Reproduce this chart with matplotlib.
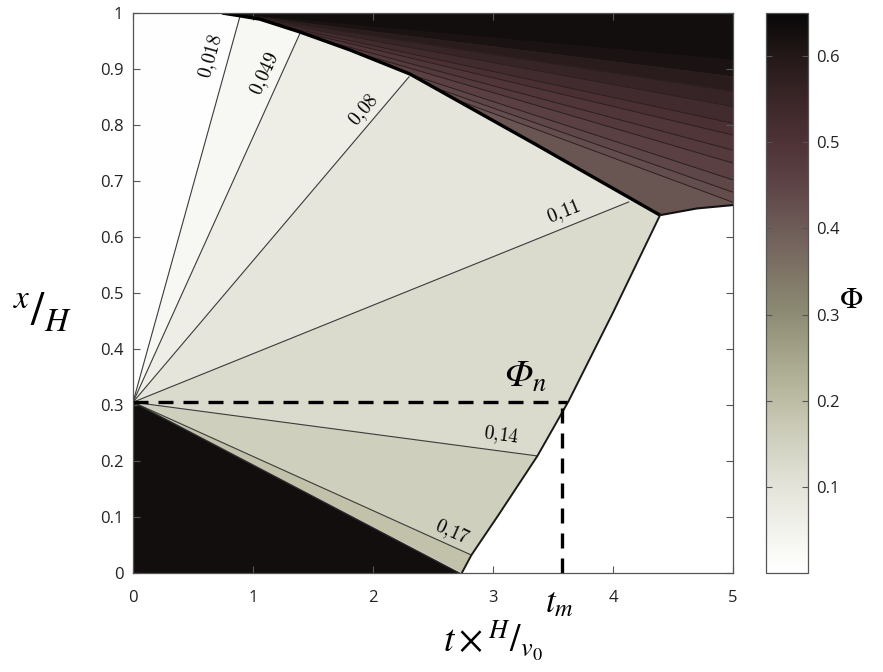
import numpy as np
import matplotlib
matplotlib.use('Agg')
import matplotlib.pyplot as plt
from matplotlib.colors import LinearSegmentedColormap, Normalize
from matplotlib.patches import Polygon
from matplotlib.cm import ScalarMappable

plt.rcParams['mathtext.fontset'] = 'stix'

# ---------------- data ----------------
fan_origin_t, fan_origin_x = 0.0, 0.305
fan_labels = ['0{,}018', '0{,}049', '0{,}08', '0{,}11', '0{,}14', '0{,}17']
fan_end_t = [0.89, 1.39, 2.30, 4.13, 3.37, 2.82]
fan_end_x = [0.993, 0.963, 0.886, 0.6625, 0.209, 0.032]
fan_band_phi = [0.003, 0.033, 0.064, 0.095, 0.125, 0.155, 0.19]
label_t = [0.654, 1.10, 1.93, 3.595, 3.07, 2.66]
label_x = [0.922, 0.891, 0.827, 0.645, 0.246, 0.073]

lower_dark_end_t, lower_dark_end_x = 2.72, 0.0
lower_dark_phi = 0.63

upper_t = [0.742, 0.89, 1.058, 1.392, 1.808, 2.308, 3.35, 4.392]
upper_x = [1.0, 0.995, 0.989, 0.966, 0.934, 0.891, 0.766, 0.639]
right_t = [4.392, 4.0, 3.63, 3.37, 3.05, 2.82, 2.74]
right_x = [0.639, 0.465, 0.307, 0.209, 0.105, 0.032, 0.0]
kink_t = [4.392, 4.7, 5.0]
kink_x = [0.639, 0.651, 0.657]

apex_t, apex_x = 0.742, 1.0
upper_edge_x = [1.0, 0.916, 0.886, 0.86, 0.833, 0.803, 0.782, 0.755, 0.732, 0.702, 0.68, 0.662, 0.30]
upper_band_phi = [0.632, 0.615, 0.585, 0.555, 0.53, 0.51, 0.49, 0.475, 0.46, 0.445, 0.43, 0.415]

t_m, phi_n_x, phi_n_t_end = 3.575, 0.305, 3.62

cm_pts = [0, 0.05, 0.1, 0.15, 0.2, 0.25, 0.3, 0.35, 0.4, 0.45, 0.5, 0.55, 0.6, 0.65]
cm_cols = ['#ffffff', '#f2f2ec', '#e3e3d9', '#d1d1c1', '#bdbda5', '#a6a68c', '#8e8c74',
           '#7e7466', '#6e5c58', '#5e4446', '#4e3236', '#3a2628', '#241818', '#080808']
cb_ticks = [0.1, 0.2, 0.3, 0.4, 0.5, 0.6]

# ---------------- figure ----------------
W, H = 883, 672
fig = plt.figure(figsize=(W / 100, H / 100), dpi=100)
ax = fig.add_axes([133 / W, 99 / H, 600 / W, 560 / H])
ax.set_xlim(0, 5)
ax.set_ylim(0, 1)

cmap = LinearSegmentedColormap.from_list('phi', list(zip(np.array(cm_pts) / 0.65, cm_cols)))
norm = Normalize(0, 0.65)

up = list(zip(upper_t, upper_x))
rt = list(zip(right_t, right_x))
kk = list(zip(kink_t, kink_x))
O = np.array([fan_origin_t, fan_origin_x])

fan_poly = [tuple(O), (0, 1.0)] + up + rt[1:]
fan_clip = Polygon(fan_poly, closed=True, transform=ax.transData)
dark_poly = up + kk[1:] + [(5.0, 1.0)]
dark_clip = Polygon(dark_poly, closed=True, transform=ax.transData)

# lower fan bands
ray_pts = [np.array([0.0, 1.0])] + [np.array(p) for p in zip(fan_end_t, fan_end_x)] + \
          [np.array([lower_dark_end_t, lower_dark_end_x])]
far = [O + 5 * (p - O) for p in ray_pts]
for i, ph in enumerate(fan_band_phi):
    c = cmap(norm(ph))
    p = Polygon([tuple(O), tuple(far[i]), tuple(far[i + 1])], closed=True,
                facecolor=c, edgecolor=c, lw=0.5, zorder=1)
    ax.add_patch(p)
    p.set_clip_path(fan_clip)

# lower dark region
c = cmap(norm(lower_dark_phi))
ax.add_patch(Polygon([(0, 0), tuple(O), (lower_dark_end_t, lower_dark_end_x)], closed=True,
                     facecolor=c, edgecolor='none', zorder=1))

# upper dark fan
A = np.array([apex_t, apex_x])
ufar = [A + 1.1 * (np.array([5.0, e]) - A) for e in upper_edge_x]
for i, ph in enumerate(upper_band_phi):
    c = cmap(norm(ph))
    p = Polygon([tuple(A), tuple(ufar[i]), tuple(ufar[i + 1])], closed=True,
                facecolor=c, edgecolor=c, lw=0.5, zorder=1)
    ax.add_patch(p)
    p.set_clip_path(dark_clip)
for e in upper_edge_x[2:-1]:
    ln, = ax.plot([apex_t, 5.0], [apex_x, e], color='#2a1e1e', lw=0.7, zorder=2)
    ln.set_clip_path(dark_clip)

# contour lines of fan
for et, ex in zip(fan_end_t, fan_end_x):
    ax.plot([fan_origin_t, et], [fan_origin_x, ex], color='#3c3c3c', lw=0.8, zorder=3)

# contour labels
for lab, lt, lx, et, ex in zip(fan_labels, label_t, label_x, fan_end_t, fan_end_x):
    ang = np.degrees(np.arctan2((ex - fan_origin_x) * 560, (et - fan_origin_t) * 120))
    ax.text(lt, lx, '$' + lab + '$', rotation=ang, rotation_mode='anchor',
            ha='center', va='center', fontsize=14, zorder=5,
            math_fontfamily='cm')

# boundaries
ax.plot([fan_origin_t, lower_dark_end_t], [fan_origin_x, lower_dark_end_x], color='#2a2a2a', lw=1.0, zorder=3)
ax.plot(upper_t, upper_x, color='k', lw=2.4, zorder=4, solid_capstyle='butt', solid_joinstyle='round')
ax.plot(kink_t, kink_x, color='#111111', lw=1.5, zorder=4)
ax.plot(right_t, right_x, color='#1a1a1a', lw=1.4, zorder=4)

# dashed guides
ax.plot([0, phi_n_t_end], [phi_n_x, phi_n_x], color='k', lw=2.4, dashes=(4.5, 3), zorder=6)
ax.plot([t_m, t_m], [0, phi_n_x - 0.006], color='k', lw=2.4, dashes=(4.5, 3), zorder=6)

ax.text(3.27, 0.318, 'Φ$_{n}$', fontsize=27, family='STIXGeneral', style='italic',
        ha='center', va='bottom', zorder=7)
ax.text(t_m - 0.02, -0.052, r'$t_m$', fontsize=25, ha='center', va='center', clip_on=False)

# axes styling
ax.set_xticks([0, 1, 2, 3, 4, 5])
ax.set_yticks(np.round(np.arange(0, 1.01, 0.1), 1))
ax.set_yticklabels(['0', '0.1', '0.2', '0.3', '0.4', '0.5', '0.6', '0.7', '0.8', '0.9', '1'])
ax.tick_params(direction='in', top=True, right=True, length=5, width=0.8,
               color='#555555', labelsize=12, labelcolor='#222222', pad=7)
ax.tick_params(axis='x', pad=12)
for lbl in ax.get_xticklabels() + ax.get_yticklabels():
    lbl.set_fontfamily('Open Sans')
for s in ax.spines.values():
    s.set_color('#555555')
    s.set_linewidth(0.9)
    s.set_zorder(8)

fig.text(42 / W, 1 - 313 / H, r'$^{x}/_{H}$', fontsize=34, ha='center', va='center')
fig.text(493 / W, 1 - 641 / H, r'$t\times{}^{H}/_{v_0}$', fontsize=27, ha='center', va='center')

# colorbar
cax = fig.add_axes([766 / W, 99 / H, 42 / W, 560 / H])
sm = ScalarMappable(norm=norm, cmap=cmap)
cb = fig.colorbar(sm, cax=cax, ticks=cb_ticks)
cb.outline.set_edgecolor('#555555')
cb.outline.set_linewidth(0.9)
cax.tick_params(direction='in', left=True, right=True, length=4, width=0.8,
                color='#555555', labelsize=12, labelcolor='#222222', pad=6)
for lbl in cax.get_yticklabels():
    lbl.set_fontfamily('Open Sans')
fig.text(851 / W, 1 - 300 / H, r'$\Phi$', fontsize=22, ha='center', va='center')

fig.savefig('out.png', dpi=100)
